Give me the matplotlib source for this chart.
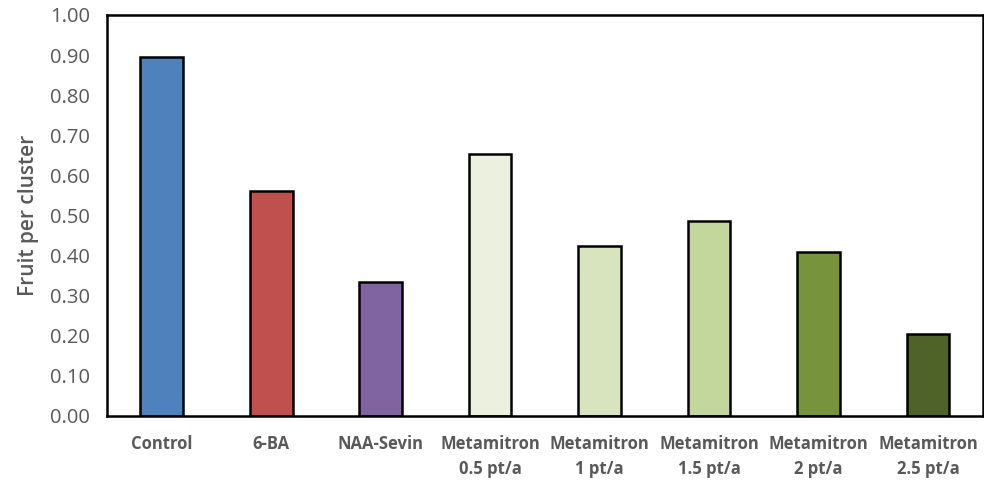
import numpy as np
import matplotlib
matplotlib.use("Agg")
import matplotlib.pyplot as plt

treatments = ["Control", "6-BA", "NAA-Sevin", "Metamitron\n0.5 pt/a", "Metamitron\n1 pt/a",
              "Metamitron\n1.5 pt/a", "Metamitron\n2 pt/a", "Metamitron\n2.5 pt/a"]
fruit_per_cluster = [0.895, 0.56, 0.333, 0.652, 0.423, 0.487, 0.41, 0.205]
bar_colors = ["#4F81BD", "#C0504D", "#8064A2", "#EBF1DE", "#D7E4BD", "#C3D69B", "#77933C", "#4F6228"]
yticks = np.arange(0, 1.01, 0.1)

grey = "#595959"
plt.rcParams["font.family"] = ["Open Sans", "DejaVu Sans"]

fig = plt.figure(figsize=(9.84, 4.82), dpi=100)
ax = fig.add_axes([0.1087, 0.137, 0.89, 0.832])

x = np.arange(len(treatments))
ax.bar(x, fruit_per_cluster, width=0.39, color=bar_colors, edgecolor="black", linewidth=1.8)

ax.set_xlim(-0.5, len(treatments) - 0.5)
ax.set_ylim(0, 1.0)
ax.set_yticks(yticks)
ax.set_yticklabels(["{:.2f}".format(v) for v in yticks], fontsize=14.5, color=grey)
ax.set_xticks(x)
ax.set_xticklabels(treatments, fontsize=12, fontweight="bold", color=grey, linespacing=1.45)
ax.tick_params(length=0)
ax.tick_params(axis="y", pad=12)
ax.tick_params(axis="x", pad=14)
ax.set_ylabel("Fruit per cluster", fontsize=15, color=grey, fontweight="semibold", labelpad=8)

for s in ax.spines.values():
    s.set_linewidth(1.8)
    s.set_color("black")

fig.savefig("out.png", dpi=100)
